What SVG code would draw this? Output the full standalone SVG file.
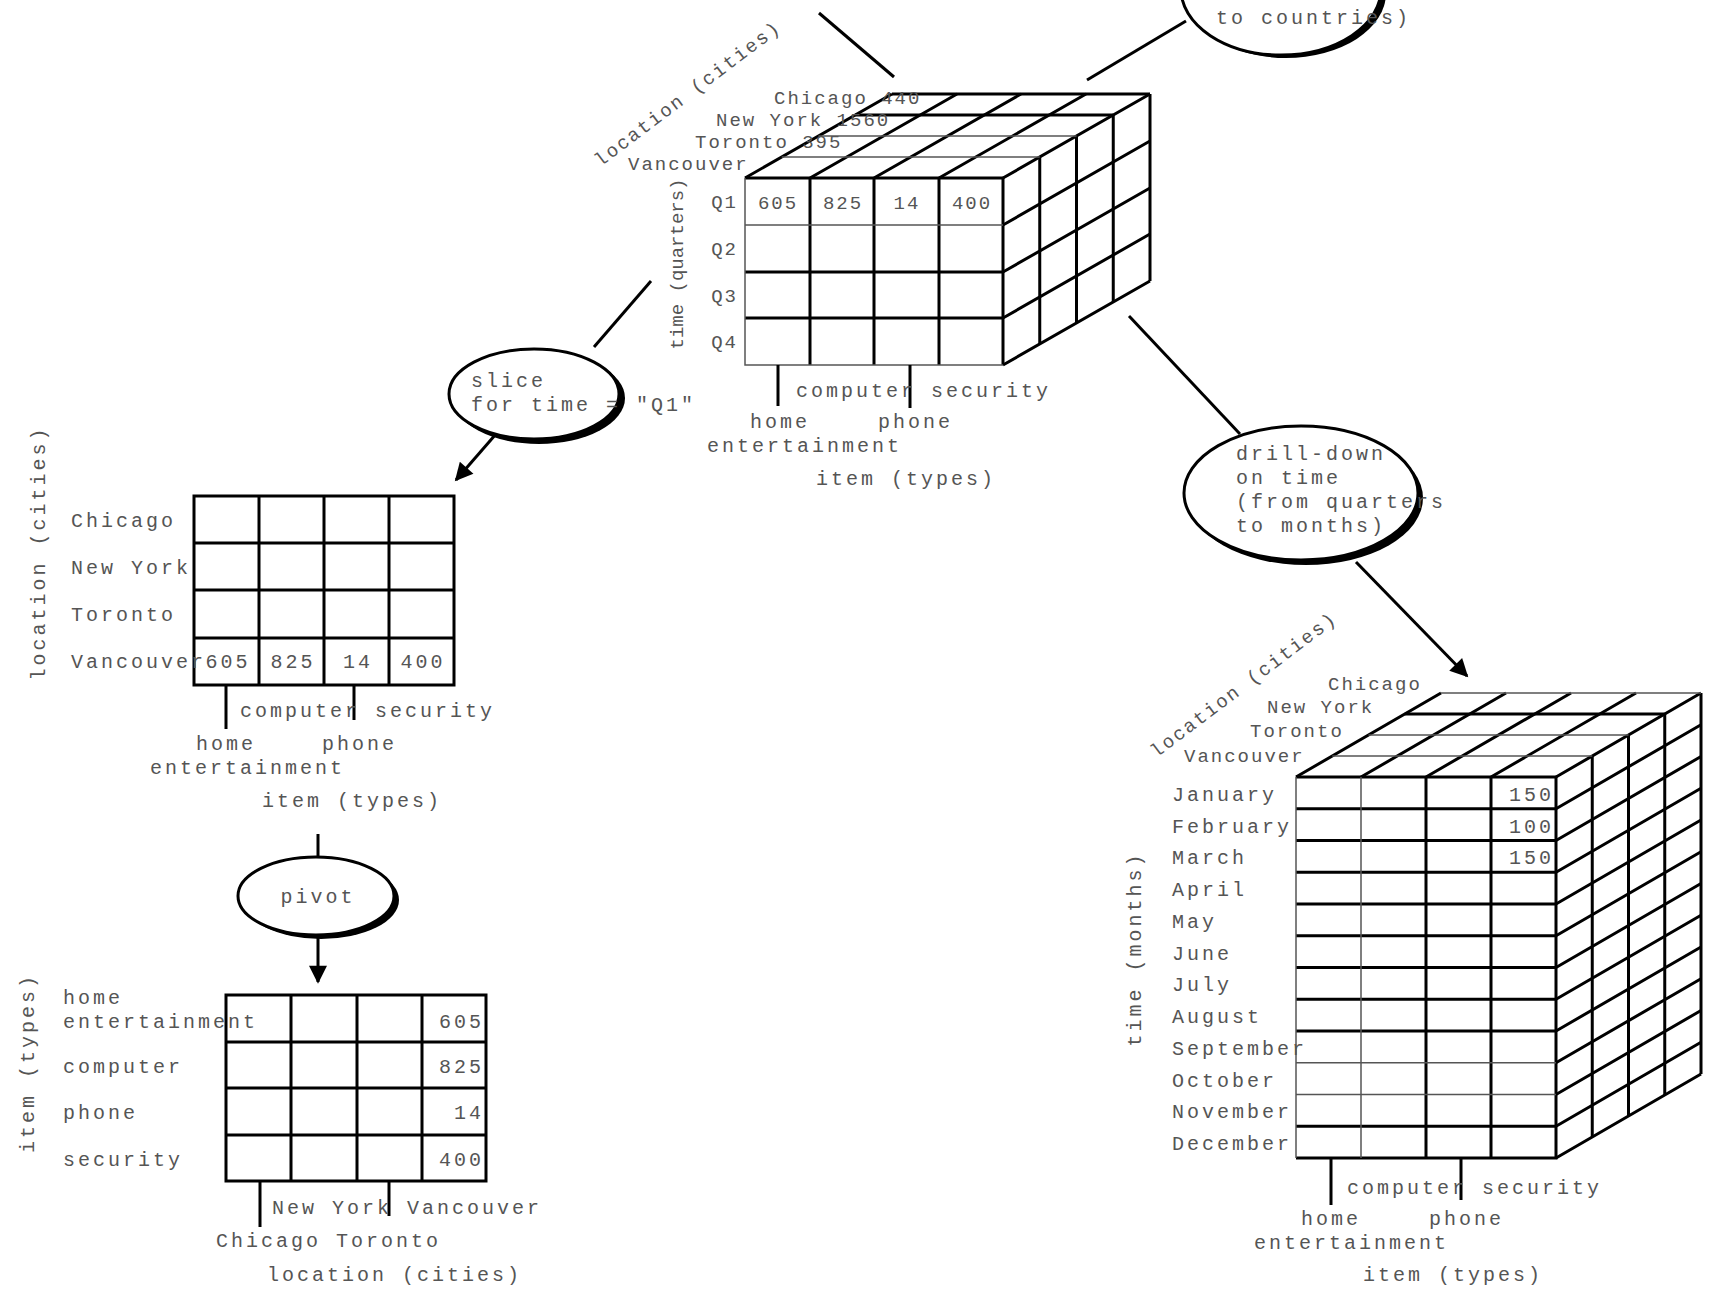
<svg xmlns="http://www.w3.org/2000/svg" width="1710" height="1290" viewBox="0 0 1710 1290">
<style>
.t{font-family:"Liberation Mono","DejaVu Sans Mono",monospace;font-size:20px;letter-spacing:3px;fill:#555}
.s{font-size:19px;letter-spacing:2px}
.k{stroke:#000;stroke-width:3;fill:none}
.n{stroke:#555;stroke-width:1.5;fill:none}
.c{stroke:#000;stroke-width:3;fill:none}
.m{text-anchor:middle}
.e{text-anchor:end}
</style>
<defs>
<marker id="ah" viewBox="0 0 10 10" refX="9" refY="5" markerWidth="20" markerHeight="18" markerUnits="userSpaceOnUse" orient="auto">
<path d="M0,0 L10,5 L0,10 z" fill="#000"/>
</marker>
</defs>
<rect width="1710" height="1290" fill="#fff"/>

<g id="connectors">
<line class="c" x1="819" y1="13" x2="894" y2="77"/>
<line class="c" x1="1087" y1="80" x2="1186" y2="21"/>
<line class="c" x1="651" y1="281" x2="594" y2="347"/>
<line class="c" x1="496" y1="434" x2="456" y2="480" marker-end="url(#ah)"/>
<line class="c" x1="1129" y1="316" x2="1240" y2="434"/>
<line class="c" x1="1356" y1="562" x2="1467" y2="676" marker-end="url(#ah)"/>
<line class="c" x1="318" y1="834" x2="318" y2="857"/>
<line class="c" x1="318" y1="936" x2="318" y2="982" marker-end="url(#ah)"/>
</g>

<g id="op-rollup">
<ellipse cx="1286" cy="-7" rx="100" ry="65" fill="#000"/>
<ellipse cx="1281" cy="-11" rx="100" ry="66" fill="#fff" stroke="#000" stroke-width="3"/>
<text class="t" x="1216" y="24">to countries)</text>
</g>

<g id="op-slice">
<ellipse cx="539" cy="398" rx="86" ry="46" fill="#000"/>
<ellipse cx="534" cy="394" rx="85" ry="45" fill="#fff" stroke="#000" stroke-width="3"/>
<text class="t" x="471" y="387">slice</text>
<text class="t" x="471" y="411">for time = "Q1"</text>
</g>

<g id="op-drill">
<ellipse cx="1306" cy="498" rx="117" ry="67" fill="#000"/>
<ellipse cx="1301" cy="493" rx="117" ry="67" fill="#fff" stroke="#000" stroke-width="3"/>
<text class="t" x="1236" y="460">drill-down</text>
<text class="t" x="1236" y="484">on time</text>
<text class="t" x="1236" y="508">(from quarters</text>
<text class="t" x="1236" y="532">to months)</text>
</g>

<g id="op-pivot">
<ellipse cx="321" cy="900" rx="78" ry="39" fill="#000"/>
<ellipse cx="316" cy="896" rx="78" ry="39" fill="#fff" stroke="#000" stroke-width="3"/>
<text class="t m" x="318" y="903">pivot</text>
</g>

<g id="cube-quarters">
<g class="k">
<path d="M745,178 H1003 V365 M745,272 H1003 M745,318 H1003 M810,178 V365 M874,178 V365 M939,178 V365"/>
<path d="M855.25,115 H1113.25 M892,94 H1150"/>
<path d="M745,178 L892,94 M810,178 L957,94 M874,178 L1021,94 M939,178 L1086,94 M1003,178 L1150,94"/>
<path d="M1039.75,157 V344 M1076.5,136 V323 M1113.25,115 V302 M1150,94 V281"/>
<path d="M1003,225 L1150,141 M1003,272 L1150,188 M1003,318 L1150,234 M1003,365 L1150,281"/>
</g>
<path class="n" d="M745,178 V365 H1003 M745,225 H1003 M781.75,157 H1039.75 M818.5,136 H1076.5"/>
<text class="t s" x="774" y="104">Chicago 440</text>
<text class="t s" x="716" y="126">New York 1560</text>
<text class="t s" x="695" y="148">Toronto 395</text>
<text class="t s" x="628" y="170">Vancouver</text>
<text class="t s m" transform="translate(687,93) rotate(-37)" dy="7">location (cities)</text>
<text class="t s m" transform="translate(683,264) rotate(-90)" style="letter-spacing:0">time (quarters)</text>
<text class="t s e" x="738" y="208">Q1</text>
<text class="t s e" x="738" y="255">Q2</text>
<text class="t s e" x="738" y="302">Q3</text>
<text class="t s e" x="738" y="348">Q4</text>
<text class="t s m" x="778" y="209">605</text>
<text class="t s m" x="843" y="209">825</text>
<text class="t s m" x="907" y="209">14</text>
<text class="t s m" x="972" y="209">400</text>
<path class="k" d="M778,365 V406 M910,365 V408"/>
<text class="t" x="796" y="397">computer security</text>
<text class="t" x="750" y="428">home</text>
<text class="t" x="878" y="428">phone</text>
<text class="t" x="707" y="452">entertainment</text>
<text class="t" x="816" y="485">item (types)</text>
</g>

<g id="table-slice">
<path class="k" d="M194,496 H454 V685 H194 Z M194,543 H454 M194,590 H454 M194,638 H454 M259,496 V685 M324,496 V685 M389,496 V685"/>
<text class="t" x="71" y="527">Chicago</text>
<text class="t" x="71" y="574">New York</text>
<text class="t" x="71" y="621">Toronto</text>
<text class="t" x="71" y="668">Vancouver</text>
<text class="t m" x="228" y="668">605</text>
<text class="t m" x="293" y="668">825</text>
<text class="t m" x="358" y="668">14</text>
<text class="t m" x="423" y="668">400</text>
<text class="t m" transform="translate(45,553) rotate(-90)">location (cities)</text>
<path class="k" d="M226,685 V729 M354,685 V720"/>
<text class="t" x="240" y="717">computer security</text>
<text class="t" x="196" y="750">home</text>
<text class="t" x="322" y="750">phone</text>
<text class="t" x="150" y="774">entertainment</text>
<text class="t" x="262" y="807">item (types)</text>
</g>

<g id="table-pivot">
<path class="k" d="M226,995 H486 V1181 H226 Z M226,1042 H486 M226,1088 H486 M226,1135 H486 M291,995 V1181 M357,995 V1181 M422,995 V1181"/>
<text class="t" x="63" y="1004">home</text>
<text class="t" x="63" y="1028">entertainment</text>
<text class="t" x="63" y="1073">computer</text>
<text class="t" x="63" y="1119">phone</text>
<text class="t" x="63" y="1166">security</text>
<text class="t e" x="484" y="1028">605</text>
<text class="t e" x="484" y="1073">825</text>
<text class="t e" x="484" y="1119">14</text>
<text class="t e" x="484" y="1166">400</text>
<text class="t m" transform="translate(34,1063) rotate(-90)">item (types)</text>
<path class="k" d="M260,1181 V1227 M389,1181 V1216"/>
<text class="t" x="272" y="1214">New York Vancouver</text>
<text class="t" x="216" y="1247">Chicago Toronto</text>
<text class="t" x="267" y="1281">location (cities)</text>
</g>

<g id="cube-months">
<g class="k">
<path d="M1296,777 H1556 V1158 H1296 M1426,777 V1158 M1491,777 V1158 M1556,777 V1158"/>
<path d="M1296,808.75 H1556 M1296,840.5 H1556 M1296,872.25 H1556 M1296,904 H1556 M1296,935.75 H1556 M1296,967.5 H1556 M1296,999.25 H1556 M1296,1031 H1556 M1296,1126.25 H1556"/>
<path d="M1404.75,714 H1664.75"/>
<path d="M1296,777 L1441,693 M1361,777 L1506,693 M1426,777 L1571,693 M1491,777 L1636,693 M1556,777 L1701,693"/>
<path d="M1592.25,756 V1137 M1628.5,735 V1116 M1664.75,714 V1095 M1701,693 V1074"/>
<path d="M1556,808.75 L1701,724.75 M1556,840.5 L1701,756.5 M1556,872.25 L1701,788.25 M1556,904 L1701,820 M1556,935.75 L1701,851.75 M1556,967.5 L1701,883.5 M1556,999.25 L1701,915.25 M1556,1031 L1701,947 M1556,1062.75 L1701,978.75 M1556,1094.5 L1701,1010.5 M1556,1126.25 L1701,1042.25 M1556,1158 L1701,1074"/>
</g>
<path class="n" d="M1296,777 V1158 M1361,777 V1158 M1296,1062.75 H1556 M1296,1094.5 H1556 M1332.25,756 H1592.25 M1368.5,735 H1628.5 M1441,693 H1701"/>
<text class="t s" x="1328" y="690">Chicago</text>
<text class="t s" x="1267" y="713">New York</text>
<text class="t s" x="1250" y="737">Toronto</text>
<text class="t s" x="1184" y="762">Vancouver</text>
<text class="t s m" transform="translate(1243,684) rotate(-37)" dy="7">location (cities)</text>
<text class="t m" transform="translate(1141,949) rotate(-90)">time (months)</text>
<text class="t" x="1172" y="801">January</text>
<text class="t" x="1172" y="833">February</text>
<text class="t" x="1172" y="864">March</text>
<text class="t" x="1172" y="896">April</text>
<text class="t" x="1172" y="928">May</text>
<text class="t" x="1172" y="960">June</text>
<text class="t" x="1172" y="991">July</text>
<text class="t" x="1172" y="1023">August</text>
<text class="t" x="1172" y="1055">September</text>
<text class="t" x="1172" y="1087">October</text>
<text class="t" x="1172" y="1118">November</text>
<text class="t" x="1172" y="1150">December</text>
<text class="t e" x="1554" y="801">150</text>
<text class="t e" x="1554" y="833">100</text>
<text class="t e" x="1554" y="864">150</text>
<path class="k" d="M1331,1158 V1205 M1461,1158 V1200"/>
<text class="t" x="1347" y="1194">computer security</text>
<text class="t" x="1301" y="1225">home</text>
<text class="t" x="1429" y="1225">phone</text>
<text class="t" x="1254" y="1249">entertainment</text>
<text class="t" x="1363" y="1281">item (types)</text>
</g>
</svg>
